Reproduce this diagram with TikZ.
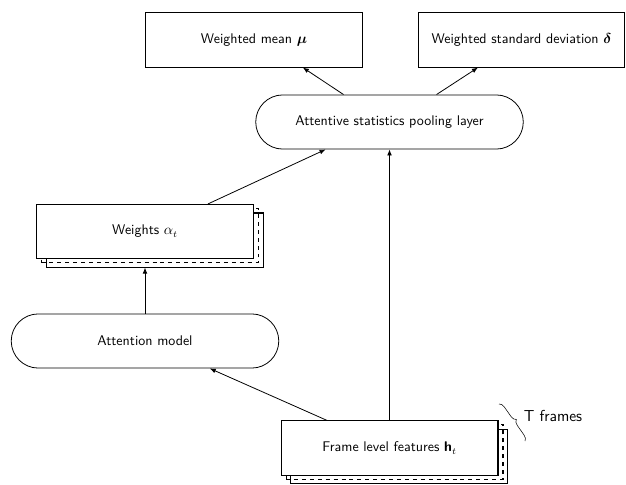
\documentclass[tikz,border=0pt]{standalone}
\usepackage{bm}
\usetikzlibrary{arrows.meta,positioning,shapes.misc,shadows,decorations.pathreplacing}

\begin{document}
\begin{tikzpicture}[x=0.0266cm, y=-0.0266cm, every node/.style={font=\sffamily\fontsize{10.6}{13}\selectfont},
 box/.style={draw,thick,fill=white,minimum height=1.44cm,minimum width=5.77cm,align=center},
 pill/.style={draw,semithick,rounded rectangle,fill=white,minimum height=1.44cm,minimum width=7.35cm},
 stack/.style={copy shadow={shadow xshift=7.5pt,shadow yshift=-6.5pt,thick},
   copy shadow={shadow xshift=3.8pt,shadow yshift=-3pt,thick,dashed,fill=none}},
 arr/.style={-{Latex[length=4.5pt,width=3.6pt]},semithick}]
\useasboundingbox (0,0) rectangle (626,485);
\node[box] (mean) at (254,40) {Weighted mean $\bm{\mu}$};
\node[box,minimum width=5.5cm] (stddev) at (521.5,40) {Weighted standard deviation $\bm{\delta}$};
\node[pill] (pooling) at (389.5,122) {Attentive statistics pooling layer};
\node[box,stack] (weights) at (145,231.5) {Weights $\alpha_t$};
\node[pill] (attention) at (145,341) {Attention model};
\node[box,stack] (frames) at (389.5,448) {Frame level features \textbf{h}$_t$};
% T frames brace
\coordinate (braceA) at (499,404); \coordinate (braceB) at (525,441);
\draw[decorate,decoration={brace,amplitude=4pt}] (braceA)--(braceB);
\node[font=\sffamily\large] (tframes) at (553,416) {T frames};
\draw[arr] ([xshift=-34.8pt]pooling.north)--([xshift=37pt]mean.south);
\draw[arr] ([xshift=35.6pt]pooling.north)--([xshift=-33pt]stddev.south);
\draw[arr] ([xshift=47.7pt]weights.north)--([xshift=-48.4pt]pooling.south);
\draw[arr] (frames.north)--(pooling.south);
\draw[arr] (attention.north)--([yshift=-6.5pt]weights.south);
\draw[arr] ([xshift=-47.3pt]frames.north)--([xshift=49pt]attention.south);
\end{tikzpicture}
\end{document}
